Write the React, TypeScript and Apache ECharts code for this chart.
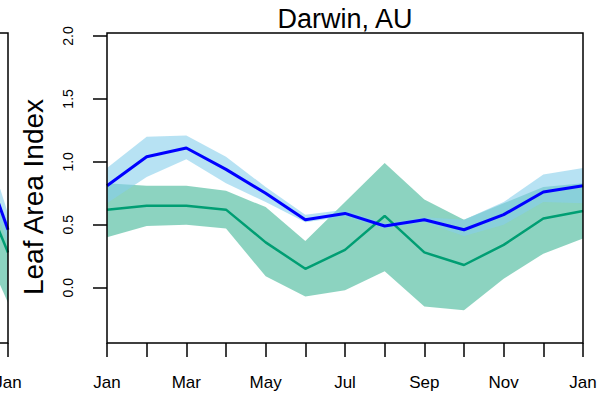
import { useEffect, useRef } from 'react';
import * as echarts from 'echarts';

// ---- Data ----
const monthNum = [1, 2, 3, 4, 5, 6, 7, 8, 9, 10, 11, 12, 13];
const monthLabels = ['Jan', 'Feb', 'Mar', 'Apr', 'May', 'Jun', 'Jul', 'Aug', 'Sep', 'Oct', 'Nov', 'Dec', 'Jan'];
const yTicks = [0, 0.5, 1, 1.5, 2];
const yMin = -0.44;
const yMax = 2.024;

const blueMean = [0.81, 1.04, 1.11, 0.94, 0.75, 0.54, 0.59, 0.49, 0.54, 0.46, 0.58, 0.76, 0.81];
const blueUpper = [0.95, 1.2, 1.21, 1.04, 0.8, 0.58, 0.62, 0.51, 0.56, 0.54, 0.68, 0.9, 0.95];
const blueLower = [0.67, 0.88, 1.02, 0.83, 0.68, 0.52, 0.565, 0.47, 0.52, 0.41, 0.5, 0.68, 0.67];

const greenMean = [0.62, 0.65, 0.65, 0.62, 0.36, 0.15, 0.3, 0.57, 0.28, 0.18, 0.34, 0.55, 0.61];
const greenUpper = [0.83, 0.81, 0.81, 0.77, 0.64, 0.37, 0.68, 0.99, 0.7, 0.54, 0.67, 0.8, 0.83];
const greenLower = [0.4, 0.49, 0.5, 0.47, 0.09, -0.07, -0.02, 0.13, -0.15, -0.18, 0.07, 0.27, 0.39];

// neighbouring panel on the left (only its Dec-Jan tail is visible)
const leftMonthNum = [12, 13];
const leftBlueMean = [1.34, 0.46];
const leftBlueUpper = [1.57, 0.59];
const leftBlueLower = [1.2, 0.35];
const leftGreenMean = [1.04, 0.28];
const leftGreenUpper = [1.24, 0.44];
const leftGreenLower = [0.58, -0.12];

const titleText = 'Darwin, AU';
const yName = 'Leaf Area Index';

const FONT = "'Liberation Sans', Arial, Helvetica, sans-serif";
const BLUE = '#0000FF';
const GREEN = '#009E73';
const GREEN_FILL = 'rgba(0,158,115,0.45)';
const BLUE_FILL = 'rgba(135,206,235,0.6)';

// the drawing surface is widened to the left so the neighbouring panel can sit off-screen
const SHIFT = 480;

function band(name: string, xs: number[], lower: number[], upper: number[], fill: string, gi: number) {
  return {
    type: 'custom',
    name,
    xAxisIndex: gi,
    yAxisIndex: gi,
    silent: true,
    z: 1,
    data: xs.map((x, i) => [x, lower[i], upper[i]]),
    encode: { x: 0, y: [1, 2] },
    renderItem: (params: any, api: any) => {
      if (params.dataIndex !== 0) return null;
      const pts: number[][] = [];
      for (let i = 0; i < xs.length; i++) pts.push(api.coord([xs[i], upper[i]]));
      for (let i = xs.length - 1; i >= 0; i--) pts.push(api.coord([xs[i], lower[i]]));
      return { type: 'polygon', shape: { points: pts }, style: { fill } };
    },
  };
}

function line(name: string, xs: number[], ys: number[], color: string, width: number, gi: number) {
  return {
    type: 'line',
    name,
    xAxisIndex: gi,
    yAxisIndex: gi,
    silent: true,
    z: 3,
    symbol: 'none',
    data: xs.map((x, i) => [x, ys[i]]),
    lineStyle: { color, width },
  };
}

const monthFormatter = (v: number) => (Math.round(v) % 2 === 1 ? monthLabels[Math.round(v) - 1] : '');

export default function App() {
  const ref = useRef<HTMLDivElement>(null);
  useEffect(() => {
    if (!ref.current) return;
    const chart = echarts.init(ref.current, null, { renderer: 'svg' });
    const xAxisBase = {
      type: 'value',
      min: 1,
      max: 13,
      interval: 1,
      axisLine: { show: false, onZero: false },
      splitLine: { show: false },
      axisTick: { show: true, inside: false, length: 14, lineStyle: { color: '#000', width: 1.5 } },
      axisLabel: { formatter: monthFormatter, fontSize: 17, color: '#000', fontFamily: FONT, margin: 31 },
    };
    const yAxisBase = {
      type: 'value',
      min: yMin,
      max: yMax,
      axisLine: { show: false, onZero: false },
      splitLine: { show: false },
    };
    chart.setOption({
      animation: false,
      backgroundColor: '#fff',
      grid: [
        { left: 107 + SHIFT, top: 33, width: 476, height: 310, show: true, borderColor: '#000', borderWidth: 1.5, z: 10 },
        { left: 8 + SHIFT - 476, top: 33, width: 476, height: 310, show: true, borderColor: '#000', borderWidth: 1.5, z: 10 },
      ],
      xAxis: [
        { ...xAxisBase, gridIndex: 0 },
        { ...xAxisBase, gridIndex: 1 },
      ],
      yAxis: [
        {
          ...yAxisBase,
          gridIndex: 0,
          axisTick: { show: true, inside: false, length: 14, customValues: yTicks, lineStyle: { color: '#000', width: 1.5 } },
          axisLabel: {
            customValues: yTicks,
            rotate: 90,
            formatter: (v: number) => v.toFixed(1),
            fontSize: 14,
            color: '#000',
            fontFamily: FONT,
            margin: 32,
          },
        },
        {
          ...yAxisBase,
          gridIndex: 1,
          axisTick: { show: false },
          axisLabel: { show: false },
        },
      ],
      graphic: [
        {
          type: 'text',
          x: 345 + SHIFT,
          y: 19,
          style: { text: titleText, fontSize: 27, fontFamily: FONT, fill: '#000', textAlign: 'center', textVerticalAlign: 'middle' },
        },
        {
          type: 'text',
          x: 33 + SHIFT,
          y: 197,
          rotation: Math.PI / 2,
          style: { text: yName, fontSize: 28, fontFamily: FONT, fill: '#000', textAlign: 'center', textVerticalAlign: 'middle' },
        },
      ],
      series: [
        band('green band', monthNum, greenLower, greenUpper, GREEN_FILL, 0),
        band('blue band', monthNum, blueLower, blueUpper, BLUE_FILL, 0),
        line('green', monthNum, greenMean, GREEN, 2.5, 0),
        line('blue', monthNum, blueMean, BLUE, 3, 0),
        band('left green band', leftMonthNum, leftGreenLower, leftGreenUpper, GREEN_FILL, 1),
        band('left blue band', leftMonthNum, leftBlueLower, leftBlueUpper, BLUE_FILL, 1),
        line('left green', leftMonthNum, leftGreenMean, GREEN, 2.5, 1),
        line('left blue', leftMonthNum, leftBlueMean, BLUE, 3, 1),
      ],
    });
    return () => chart.dispose();
  }, []);
  return (
    <div style={{ position: 'fixed', left: 0, top: 0, width: 611, height: 402, overflow: 'hidden', background: '#fff' }}>
      <div ref={ref} style={{ position: 'absolute', left: -SHIFT, top: 0, width: 611 + SHIFT, height: 402 }} />
    </div>
  );
}
